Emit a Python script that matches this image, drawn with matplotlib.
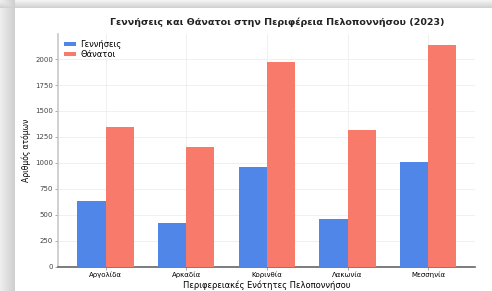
import numpy as np
import matplotlib
matplotlib.use("Agg")
import matplotlib.pyplot as plt

# data
regions = ["Αργολίδα", "Αρκαδία", "Κορινθία", "Λακωνία", "Μεσσηνία"]
births = [635, 424, 957, 459, 1005]
deaths = [1345, 1156, 1968, 1316, 2135]
yticks = [0, 250, 500, 750, 1000, 1250, 1500, 1750, 2000]

BLUE = "#4f86e8"
RED = "#f77a6a"
W, H = 492, 291

fig = plt.figure(figsize=(W / 100, H / 100), dpi=100)

# screenshot frame: soft gray shadow on the top and left of a white card
bg = fig.add_axes([0, 0, 1, 1])
bg.set_axis_off()
xx = np.arange(W)[None, :]
yy = np.arange(H)[:, None]
left = np.where(xx < 15, 0.93 - 0.12 * (xx / 14.0), 1.0)
top = np.where(yy < 8, 0.95 - 0.13 * (yy / 7.0), 1.0)
shade = np.minimum(left, top) * np.ones((H, W))
bg.imshow(shade, cmap="gray", vmin=0, vmax=1, extent=[0, W, H, 0],
          aspect="auto", interpolation="bilinear")
bg.set_xlim(0, W)
bg.set_ylim(H, 0)

ax = fig.add_axes([58 / W, 1 - 266.7 / H, (475 - 58) / W, (266.7 - 34) / H])

x = np.arange(len(regions))
width = 0.35
ax.bar(x - width / 2, births, width, color=BLUE, label="Γεννήσεις", zorder=3)
ax.bar(x + width / 2, deaths, width, color=RED, label="Θάνατοι", zorder=3)

ax.set_xticks(x)
ax.set_xticklabels(regions, fontsize=5)
ax.set_yticks(yticks)
ax.set_yticklabels([str(v) for v in yticks], fontsize=5, color="#444444")
ax.set_xlim(-0.59, 4.58)
ax.set_ylim(0, max(deaths) * 1.05)

ax.grid(True, color="#eeeeee", linewidth=0.6, zorder=0)
for side in ("top", "right"):
    ax.spines[side].set_visible(False)
ax.spines["left"].set_color("#c8c8c8")
ax.spines["left"].set_linewidth(1.2)
ax.spines["bottom"].set_color("#666666")
ax.spines["bottom"].set_linewidth(1.2)
ax.tick_params(axis="both", length=2, width=0.6, color="#999999", pad=1.5)

ax.set_ylabel("Αριθμός ατόμων", fontsize=5.5, labelpad=3)
ax.set_xlabel("Περιφερειακές Ενότητες Πελοποννήσου", fontsize=6, labelpad=1.5)

ax.legend(loc="upper left", fontsize=6, frameon=False, handlelength=1.5,
          handleheight=0.45, borderaxespad=0.3, labelspacing=0.15,
          handletextpad=0.5)

fig.text(277 / W, 1 - 22 / H, "Γεννήσεις και Θάνατοι στην Περιφέρεια Πελοποννήσου (2023)",
         ha="center", va="center", fontsize=6.8, fontweight="bold", color="#222222")

fig.savefig("out.png", dpi=100)
